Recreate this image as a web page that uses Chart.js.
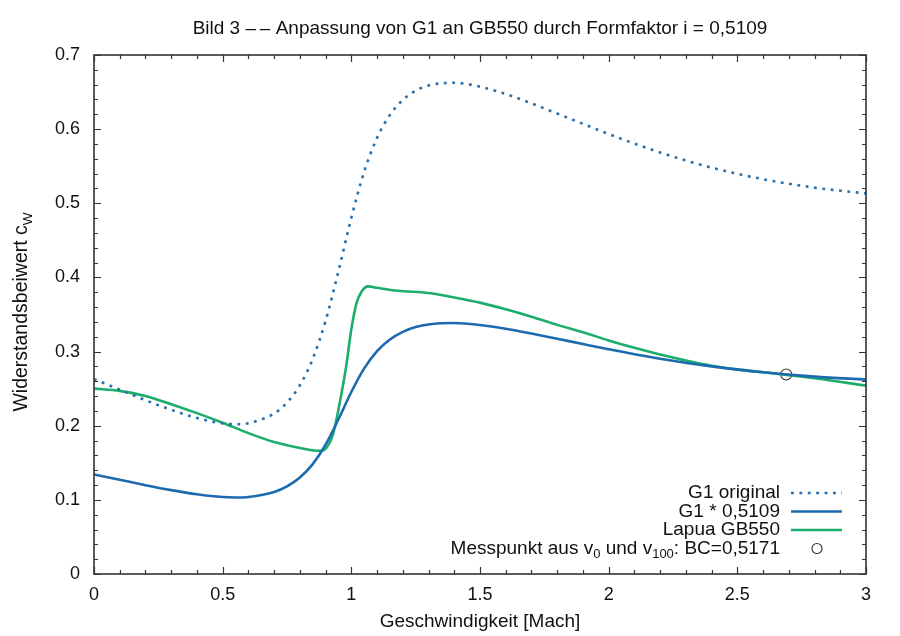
<!DOCTYPE html>
<html>
<head>
<meta charset="utf-8">
<script src="https://cdn.jsdelivr.net/npm/chart.js@4.4.1/dist/chart.umd.min.js"></script>
<style>
  html, body { margin: 0; padding: 0; background: #fff; }
  #wrap { width: 900px; height: 636px; }
</style>
</head>
<body>
<div id="wrap"><canvas id="chart" width="900" height="636"></canvas></div>
<script>
// ---------- data ----------
const machG1 = [0, 0.1, 0.2, 0.3, 0.4, 0.5, 0.55, 0.6, 0.7, 0.75, 0.8, 0.85, 0.9, 0.95,
  1.0, 1.05, 1.1, 1.15, 1.2, 1.25, 1.3, 1.4, 1.5, 1.6, 1.7, 1.8, 1.9, 2.0, 2.2, 2.4, 2.6, 2.8, 3.0];
const g1Original = [0.2629, 0.2487, 0.2344, 0.2214, 0.2104, 0.2032, 0.2020, 0.2034, 0.2165, 0.2313,
  0.2546, 0.2901, 0.3415, 0.4084, 0.4805, 0.5427, 0.5883, 0.6191, 0.6393, 0.6518, 0.6589, 0.6625,
  0.6573, 0.6474, 0.6347, 0.6210, 0.6072, 0.5934, 0.5685, 0.5481, 0.5325, 0.5211, 0.5133];
const g1Scaled = [0.1343, 0.1271, 0.1198, 0.1131, 0.1075, 0.1038, 0.1032, 0.1039, 0.1106, 0.1182,
  0.1301, 0.1482, 0.1745, 0.2087, 0.2455, 0.2773, 0.3006, 0.3163, 0.3266, 0.3330, 0.3366, 0.3385,
  0.3358, 0.3308, 0.3243, 0.3173, 0.3102, 0.3032, 0.2904, 0.2800, 0.2721, 0.2662, 0.2622];

const machLapua = [0, 0.1, 0.2, 0.3, 0.4, 0.5, 0.6, 0.7, 0.8, 0.88, 0.905, 0.93, 0.95, 0.98,
  1.0, 1.02, 1.04, 1.065, 1.1, 1.18, 1.3, 1.4, 1.5, 1.6, 1.7, 1.8, 1.9, 2.0, 2.1, 2.2, 2.3, 2.4,
  2.5, 2.6, 2.8, 3.0];
const lapuaGB550 = [0.250, 0.247, 0.240, 0.229, 0.217, 0.204, 0.190, 0.178, 0.170, 0.166, 0.171,
  0.190, 0.222, 0.280, 0.330, 0.365, 0.381, 0.388, 0.386, 0.382, 0.379, 0.373, 0.366, 0.357,
  0.347, 0.336, 0.326, 0.315, 0.305, 0.296, 0.288, 0.281, 0.276, 0.272, 0.264, 0.254];

const messMach = [2.69];
const messCw = [0.269];

const xMajor = [0, 0.5, 1, 1.5, 2, 2.5, 3];
const xLabels = ["0", "0.5", "1", "1.5", "2", "2.5", "3"];
const yMajor = [0, 0.1, 0.2, 0.3, 0.4, 0.5, 0.6, 0.7];
const yLabels = ["0", "0.1", "0.2", "0.3", "0.4", "0.5", "0.6", "0.7"];

const BLUE = "#1d6aae";
const BLUE_DOT = "#2a6fa9";
const GREEN = "#1bad6b";
const FONT = '"Liberation Sans", Arial, Helvetica, sans-serif';

function pts(xs, ys) {
  return xs.map((x, i) => ({ x: x, y: ys[i] }));
}

// ---------- title, frame, ticks, legend, y title ----------
const decor = {
  id: "decor",
  afterDatasetsDraw(chart) {
    const ctx = chart.ctx;
    const a = chart.chartArea;
    const xs = chart.scales.x, ys = chart.scales.y;
    ctx.save();

    // title, centred over the plot
    ctx.fillStyle = "#111";
    ctx.textAlign = "center";
    ctx.textBaseline = "middle";
    ctx.font = "19px " + FONT;
    ctx.fillText("Bild 3 \u2013\u2009\u2013 Anpassung von G1 an GB550 durch Formfaktor i = 0,5109",
      (a.left + a.right) / 2, 29);

    ctx.strokeStyle = "#333";
    ctx.lineWidth = 1.2;

    // inward ticks on all sides
    ctx.beginPath();
    for (let i = 0; i <= 30; i++) {
      const px = Math.round(xs.getPixelForValue(i / 10)) + 0.5;
      const len = i % 5 === 0 ? 7 : 4;
      ctx.moveTo(px, a.bottom); ctx.lineTo(px, a.bottom - len);
      ctx.moveTo(px, a.top); ctx.lineTo(px, a.top + len);
    }
    for (let i = 0; i <= 35; i++) {
      const py = Math.round(ys.getPixelForValue(i * 0.02)) + 0.5;
      const len = i % 5 === 0 ? 7 : 4;
      ctx.moveTo(a.left, py); ctx.lineTo(a.left + len, py);
      ctx.moveTo(a.right, py); ctx.lineTo(a.right - len, py);
    }
    ctx.stroke();

    ctx.lineWidth = 1.6;
    ctx.strokeRect(a.left, a.top, a.right - a.left, a.bottom - a.top);

    // legend
    const textRight = 780, lineX0 = 791, lineX1 = 842;
    const rows = [493, 511.5, 530, 548.5];
    ctx.fillStyle = "#111";
    ctx.textAlign = "right";
    ctx.font = "19px " + FONT;
    ctx.fillText("G1 original", textRight, rows[0]);
    ctx.fillText("G1 * 0,5109", textRight, rows[1]);
    ctx.fillText("Lapua GB550", textRight, rows[2]);

    ctx.lineWidth = 2.6;
    ctx.strokeStyle = BLUE_DOT;
    ctx.setLineDash([2.8, 5.6]);
    ctx.beginPath(); ctx.moveTo(lineX0, rows[0]); ctx.lineTo(lineX1, rows[0]); ctx.stroke();
    ctx.setLineDash([]);
    ctx.strokeStyle = BLUE;
    ctx.beginPath(); ctx.moveTo(lineX0, rows[1]); ctx.lineTo(lineX1, rows[1]); ctx.stroke();
    ctx.strokeStyle = GREEN;
    ctx.beginPath(); ctx.moveTo(lineX0, rows[2]); ctx.lineTo(lineX1, rows[2]); ctx.stroke();

    // "Messpunkt aus v0 und v100: BC=0,5171" with subscripts
    const parts = [
      ["Messpunkt aus v", false], ["0", true], [" und v", false], ["100", true], [": BC=0,5171", false]
    ];
    let total = 0;
    parts.forEach(p => {
      ctx.font = (p[1] ? "13px " : "19px ") + FONT;
      p.push(ctx.measureText(p[0]).width);
      total += p[2];
    });
    ctx.textAlign = "left";
    let cx = textRight - total;
    parts.forEach(p => {
      ctx.font = (p[1] ? "13px " : "19px ") + FONT;
      ctx.fillText(p[0], cx, rows[3] + (p[1] ? 6 : 0));
      cx += p[2];
    });
    ctx.lineWidth = 1.1;
    ctx.strokeStyle = "#333";
    ctx.fillStyle = "#fff";
    ctx.beginPath(); ctx.arc(817, rows[3], 5, 0, Math.PI * 2); ctx.fill(); ctx.stroke();

    // y axis title with subscript
    ctx.translate(22, 312);
    ctx.rotate(-Math.PI / 2);
    ctx.fillStyle = "#111";
    ctx.font = "19.5px " + FONT;
    const mainT = "Widerstandsbeiwert c";
    const w1 = ctx.measureText(mainT).width;
    ctx.font = "13.5px " + FONT;
    const w2 = ctx.measureText("W").width;
    const x0 = -(w1 + w2) / 2;
    ctx.font = "19.5px " + FONT;
    ctx.fillText(mainT, x0, 0);
    ctx.font = "13.5px " + FONT;
    ctx.fillText("W", x0 + w1, 6);
    ctx.restore();
  }
};

// ---------- chart ----------
new Chart(document.getElementById("chart"), {
  type: "line",
  data: {
    datasets: [
      {
        label: "G1 original",
        data: pts(machG1, g1Original),
        borderColor: BLUE_DOT,
        borderWidth: 2.6,
        borderDash: [2.8, 5.6],
        pointRadius: 0,
        cubicInterpolationMode: "monotone"
      },
      {
        label: "G1 * 0,5109",
        data: pts(machG1, g1Scaled),
        borderColor: BLUE,
        borderWidth: 2.6,
        pointRadius: 0,
        cubicInterpolationMode: "monotone"
      },
      {
        label: "Lapua GB550",
        data: pts(machLapua, lapuaGB550),
        borderColor: GREEN,
        borderWidth: 2.6,
        pointRadius: 0,
        cubicInterpolationMode: "monotone"
      },
      {
        label: "Messpunkt",
        data: pts(messMach, messCw),
        showLine: false,
        pointRadius: 5.5,
        pointBackgroundColor: "#fff",
        pointBorderColor: "#333",
        pointBorderWidth: 1.1
      }
    ]
  },
  options: {
    responsive: false,
    animation: false,
    devicePixelRatio: 1,
    locale: "en-US",
    layout: { padding: { top: 55, right: 34, bottom: 0, left: 0 } },
    plugins: {
      legend: { display: false },
      tooltip: { enabled: false },
      title: { display: false }
    },
    scales: {
      x: {
        type: "linear",
        min: 0,
        max: 3,
        afterBuildTicks(s) { s.ticks = xMajor.map(v => ({ value: v })); },
        ticks: {
          color: "#111", font: { family: FONT, size: 18 }, padding: 10, maxRotation: 0,
          callback: (v, i) => xLabels[i]
        },
        grid: { display: false, drawTicks: false },
        border: { display: false },
        title: {
          display: true,
          text: "Geschwindigkeit [Mach]",
          color: "#111",
          font: { family: FONT, size: 19 },
          padding: { top: 0, bottom: 3 }
        },
        afterFit(s) { s.height = 62; }
      },
      y: {
        min: 0,
        max: 0.7,
        afterBuildTicks(s) { s.ticks = yMajor.map(v => ({ value: v })); },
        ticks: {
          color: "#111", font: { family: FONT, size: 18 }, padding: 14,
          callback: (v, i) => yLabels[i]
        },
        grid: { display: false, drawTicks: false },
        border: { display: false },
        afterFit(s) { s.width = 94; }
      }
    }
  },
  plugins: [decor]
});
</script>
</body>
</html>
